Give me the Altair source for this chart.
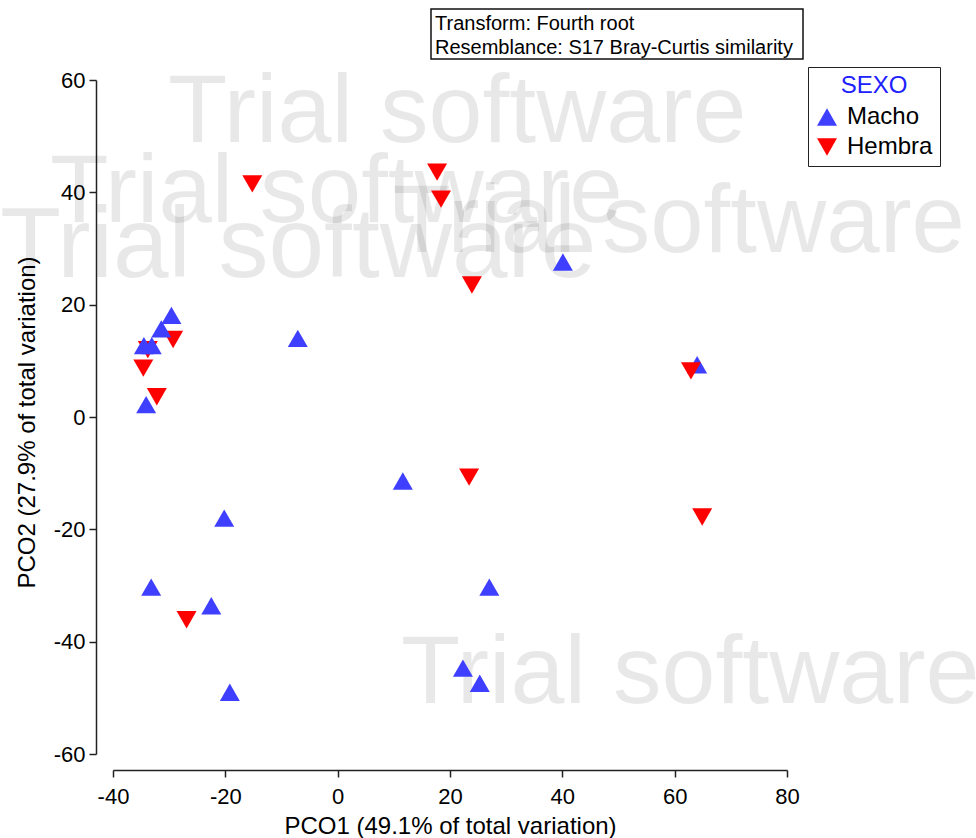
import altair as alt
import pandas as pd

# ---- data (sample order = draw order) ----
pco1 = [-15.2, 17.7, 18.4, 23.9, -29.3, -33.8, -34.6, -32.2, -26.9, 23.4, 64.9,
        40.1, 64.0, -7.1, -29.6, -31.4, -33.1, -34.5, -34.1, 11.6, -20.2, -33.2,
        -22.5, -19.2, 27.0, 22.3, 25.3,
        62.9]
pco2 = [41.5, 43.6, 38.8, 23.5, 13.8, 12.0, 8.7, 3.6, -36.1, -10.7, -17.8,
        27.6, 9.3, 14.0, 18.1, 15.7, 12.7, 12.7, 2.2, -11.4, -18.0, -30.3,
        -33.6, -49.0, -30.3, -44.7, -47.4,
        8.2]
sexo = ["Hembra"] * 11 + ["Macho"] * 16 + ["Hembra"]

groups = ["Macho", "Hembra"]
group_colors = ["#3F3FFF", "#FF0000"]
group_shapes = ["triangle-up", "triangle-down"]

x_ticks = [-40, -20, 0, 20, 40, 60, 80]
y_ticks = [-60, -40, -20, 0, 20, 40, 60]

x_title = "PCO1 (49.1% of total variation)"
y_title = "PCO2 (27.9% of total variation)"
note_lines = ["Transform: Fourth root", "Resemblance: S17 Bray-Curtis similarity"]
watermark = "Trial software"

df = pd.DataFrame({"PCO1": pco1, "PCO2": pco2, "SEXO": sexo,
                   "n": list(range(len(pco1)))})

FONT = "Liberation Sans"
AX = "#222222"


def one(text):
    return alt.Chart(pd.DataFrame({"t": [text]}))


def wm(x, y, size, align="left"):
    return one(watermark).mark_text(
        align=align, baseline="alphabetic", fontSize=size, font=FONT,
        fill="#000000", fillOpacity=0.09
    ).encode(text="t:N", x=alt.value(x), y=alt.value(y))


watermarks = [
    wm(55, 62, 97),
    wm(-63, 142, 96),
    wm(-113, 197, 100),
    wm(852, 172, 96, align="right"),
    wm(288, 623, 97),
]

box = alt.Chart(pd.DataFrame({"a": [0]})).mark_rect(
    fill="white", stroke="#111111", strokeWidth=1.5
).encode(x=alt.value(318), x2=alt.value(690), y=alt.value(-71), y2=alt.value(-21))

note1 = one(note_lines[0]).mark_text(
    align="left", baseline="alphabetic", fontSize=20, font=FONT, color="black"
).encode(text="t:N", x=alt.value(322), y=alt.value(-50))
note2 = one(note_lines[1]).mark_text(
    align="left", baseline="alphabetic", fontSize=20, font=FONT, color="black"
).encode(text="t:N", x=alt.value(322), y=alt.value(-26))

legend = alt.Legend(
    title="SEXO", orient="none", legendX=695, legendY=-13,
    fillColor="white", strokeColor="#222222", padding=7,
    titleColor="#2020FF", titleFontSize=24, titleFont=FONT, titleFontWeight="normal",
    titleAnchor="middle", titlePadding=7,
    labelFontSize=24, labelFont=FONT, labelColor="black", labelOffset=8,
    symbolSize=400, symbolStrokeWidth=0, rowPadding=6, cornerRadius=0,
)

points = alt.Chart(df).mark_point(
    filled=True, size=400, opacity=1, strokeWidth=0
).encode(
    x=alt.X("PCO1:Q",
            scale=alt.Scale(domain=[-40, 80], nice=False, zero=False),
            axis=alt.Axis(values=x_ticks, title=x_title, offset=16,
                          labelExpr="'' + datum.value", labelFlush=False,
                          labelPadding=9, titleY=63, titleBaseline="alphabetic")),
    y=alt.Y("PCO2:Q",
            scale=alt.Scale(domain=[-60, 60], nice=False, zero=False),
            axis=alt.Axis(values=y_ticks, title=y_title, offset=17,
                          labelExpr="'' + datum.value", labelFlush=False,
                          labelPadding=4, titleX=-62, titleY=342,
                          titleAngle=270, titleAlign="center",
                          titleBaseline="alphabetic")),
    color=alt.Color("SEXO:N", scale=alt.Scale(domain=groups, range=group_colors),
                    legend=legend),
    shape=alt.Shape("SEXO:N", scale=alt.Scale(domain=groups, range=group_shapes),
                    legend=legend),
    order=alt.Order("n:Q"),
)

chart = alt.layer(*watermarks, box, note1, note2, points).properties(
    width=674, height=674,
    autosize=alt.AutoSizeParams(type="none"),
    padding={"left": 113, "top": 80, "right": 189, "bottom": 84},
    background="white",
).configure_view(stroke=None).configure_axis(
    grid=False, domainColor=AX, domainWidth=1.5, tickColor=AX, tickWidth=1.5,
    tickSize=7, labelFont=FONT, labelFontSize=22, labelColor="black",
    titleFont=FONT, titleFontSize=24, titleFontWeight="normal", titleColor="black",
)

chart.save("out.html", embed_options={"renderer": "svg", "actions": False})
